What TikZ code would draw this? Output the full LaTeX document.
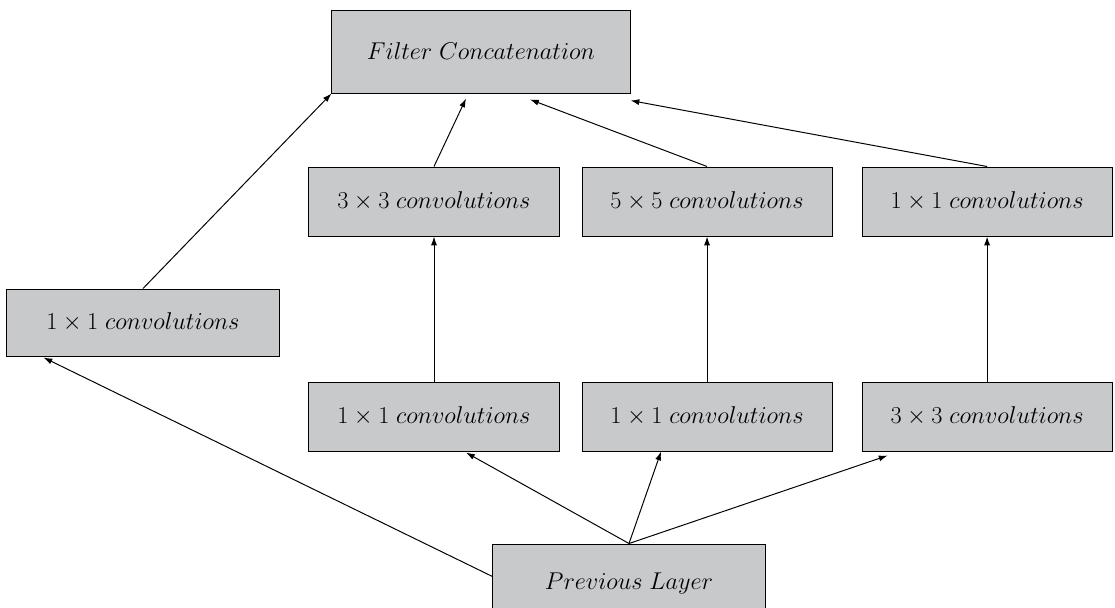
\documentclass[tikz,border=0pt]{standalone}
\usepackage{tikz}
\usetikzlibrary{arrows.meta,positioning,calc}
\definecolor{boxgray}{RGB}{200,201,203}

\begin{document}
\begin{tikzpicture}[
x=0.025cm, y=-0.025cm,
node distance=3.625cm and 0.55cm,
blk/.style={draw, fill=boxgray, line width=0.7pt, minimum width=6.25cm, minimum height=1.725cm, align=center, font=\fontsize{16}{19}\selectfont},
arr/.style={-{Latex[length=2.2mm,width=1.5mm]}, line width=0.7pt}
]
\useasboundingbox (0,0) rectangle (1115,607);

\node[blk, minimum width=7.45cm, minimum height=2.075cm] (concat) at (481,51.5) {$Filter\ Concatenation$};
\node[blk, minimum width=6.8cm, minimum height=1.675cm] (side) at (143,322.5) {$1\times1\ convolutions$};
\node[blk] (c3) at (434,201.5) {$3\times3\ convolutions$};
\node[blk, right=of c3] (c5) {$5\times5\ convolutions$};
\node[blk, right=0.725cm of c5] (c1) {$1\times1\ convolutions$};
\node[blk, below=of c3] (r3) {$1\times1\ convolutions$};
\node[blk, below=of c5] (r5) {$1\times1\ convolutions$};
\node[blk, below=of c1] (pool) {$3\times3\ convolutions$};
\node[blk, minimum width=6.8cm, minimum height=2cm] (prev) at (629,584) {$Previous\ Layer$};

\draw[arr] (side.north) -- (concat.south west);
\draw[arr] (c3.north) -- ($(concat.south)+(-15,5)$);
\draw[arr] (c5.north) -- ($(concat.south)+(49,6)$);
\draw[arr] (c1.north) -- ($(concat.south east)+(0,7)$);
\draw[arr] (r3) -- (c3);
\draw[arr] (r5) -- (c5);
\draw[arr] (pool) -- (c1);
\draw[arr] (prev.north) -- ($(r3.south)+(32,1)$);
\draw[arr] (prev.north) -- ($(r5.south)+(-46,0)$);
\draw[arr] (prev.north) -- ($(pool.south west)+(26,4)$);
\draw[arr] ($(prev.north west)+(0,33)$) -- ($(side.south west)+(37,1)$);
\end{tikzpicture}
\end{document}
